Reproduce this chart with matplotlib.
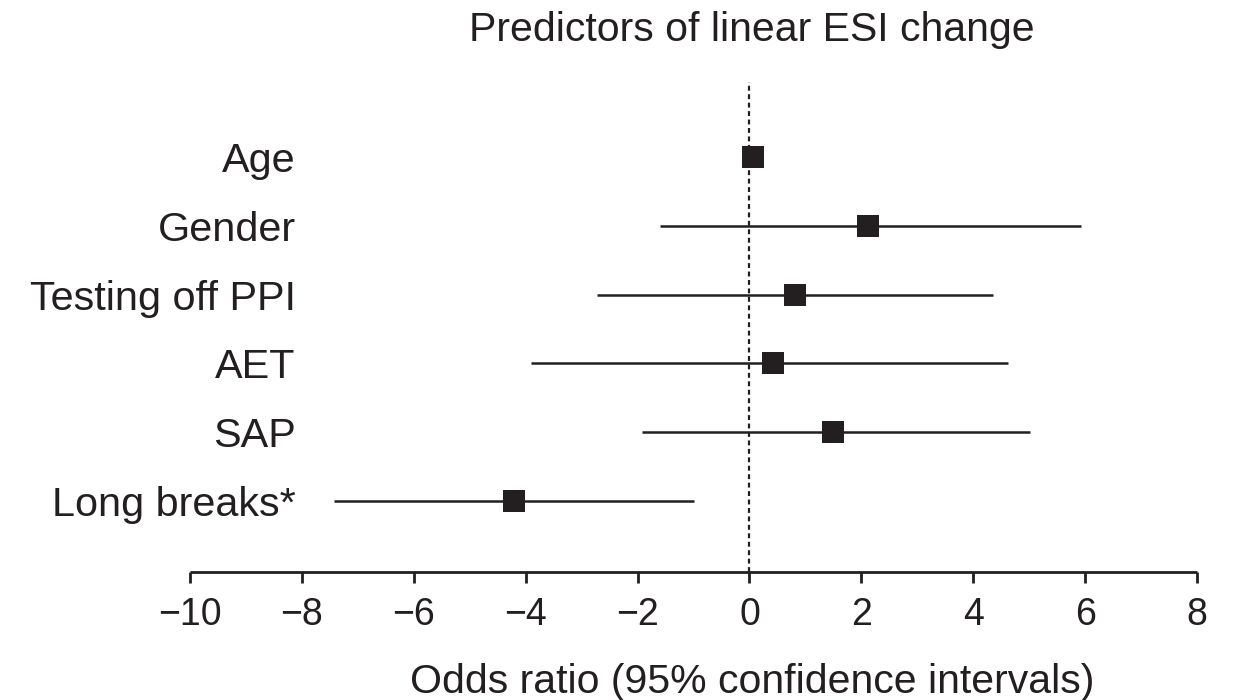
import matplotlib
matplotlib.use("Agg")
import matplotlib.pyplot as plt

labels = ["Age", "Gender", "Testing off PPI", "AET", "SAP", "Long breaks*"]
estimates = [0.07, 2.12, 0.82, 0.42, 1.49, -4.21]
ci_low = [0.0, -1.60, -2.73, -3.90, -1.92, -7.43]
ci_high = [0.14, 5.93, 4.35, 4.62, 5.02, -1.00]
xticks = [-10, -8, -6, -4, -2, 0, 2, 4, 6, 8]

plt.rcParams['font.family'] = ['Liberation Sans', 'DejaVu Sans']
color = '#231f20'

fig = plt.figure(figsize=(12.36, 7.0), dpi=100)
ax = fig.add_axes([190/1236, 1 - 572/700, (1197-190)/1236, (572-82)/700])

n = len(labels)
ys = [n - 1 - i for i in range(n)]

ax.axvline(0, color=color, linestyle=(0, (2.2, 1.6)), linewidth=1.6, zorder=1)
for y, e, lo, hi in zip(ys, estimates, ci_low, ci_high):
    ax.plot([lo, hi], [y, y], color=color, linewidth=1.8, solid_capstyle='butt', zorder=2)
    ax.plot([e], [y], marker='s', markersize=16.5, color=color, markeredgewidth=0, zorder=3)

ax.set_xlim(-10, 8)
ax.set_ylim(-1.03, n - 1 + 1.09)
ax.set_xticks(xticks)
ax.set_xticklabels([str(t).replace('-', '\u2212') for t in xticks], fontsize=27, color=color)
ax.set_yticks(ys)
ax.set_yticklabels(labels, fontsize=29.8, color=color)
ax.tick_params(axis='y', length=0, pad=-76)
ax.tick_params(axis='x', length=8, width=2, color=color, pad=10, direction='out')
for s in ['left', 'right', 'top']:
    ax.spines[s].set_visible(False)
ax.spines['bottom'].set_linewidth(2)
ax.spines['bottom'].set_color(color)
ax.spines['bottom'].set_capstyle('butt')

fig.text(752/1236, 1 - 682/700, "Odds ratio (95% confidence intervals)", fontsize=29.5, color=color,
         ha='center', va='center')
fig.text(752/1236, 1 - 30/700, "Predictors of linear ESI change", fontsize=29.5, color=color,
         ha='center', va='center')

fig.savefig("out.png", dpi=100, facecolor='white')
